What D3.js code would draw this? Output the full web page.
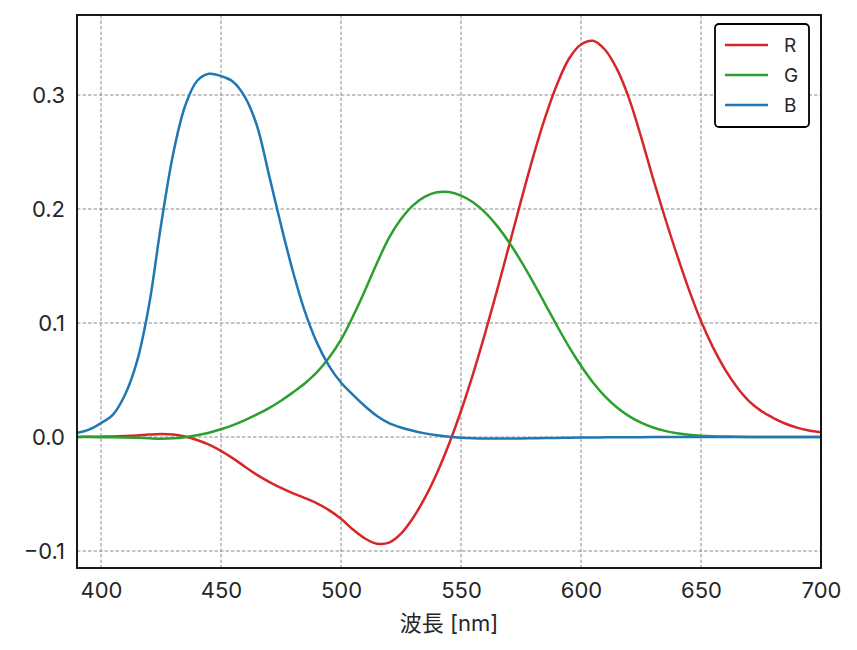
<!DOCTYPE html>
<html>
<head>
<meta charset="utf-8">
<script src="https://cdn.jsdelivr.net/npm/d3@7"></script>
<style>
  html, body { margin: 0; padding: 0; background: #fff; }
  svg { display: block; }
  text { font-family: Inter, "Noto Sans CJK JP", sans-serif; fill: #262626; }
</style>
</head>
<body>
<svg id="chart" width="857" height="650"></svg>
<script>
// Wavelength (nm)
const wavelengths = [390,395,400,405,410,415,420,425,430,435,440,445,450,455,460,465,470,475,480,485,490,495,
  500,505,510,515,520,525,530,535,540,545,550,555,560,565,570,575,580,585,590,595,
  600,605,610,615,620,625,630,635,640,645,650,655,660,665,670,675,680,685,690,695,700];
// Series values
const seriesR = [0.00010,0.00017,0.00030,0.00047,0.00084,0.00139,0.00211,0.00266,0.00218,0.00036,-0.00261,-0.00673,
  -0.01213,-0.01874,-0.02608,-0.03324,-0.03933,-0.04471,-0.04939,-0.05364,-0.05814,-0.06414,
  -0.07173,-0.08120,-0.08901,-0.09356,-0.09264,-0.08473,-0.07101,-0.05316,-0.03152,-0.00613,
  0.02279,0.05514,0.09060,0.12840,0.16768,0.20715,0.24526,0.27989,0.30928,0.33184,
  0.34429,0.34756,0.33971,0.32265,0.29708,0.26348,0.22677,0.19233,0.15968,0.12905,
  0.10167,0.07857,0.05932,0.04366,0.03149,0.02294,0.01687,0.01187,0.00819,0.00572,0.00410];
const seriesG = [-0.00004,-0.00007,-0.00014,-0.00022,-0.00041,-0.00070,-0.00110,-0.00143,-0.00119,-0.00021,0.00149,0.00379,
  0.00678,0.01046,0.01485,0.01977,0.02538,0.03183,0.03914,0.04713,0.05689,0.06948,
  0.08536,0.10593,0.12860,0.15262,0.17468,0.19113,0.20317,0.21083,0.21466,0.21487,
  0.21178,0.20588,0.19702,0.18522,0.17087,0.15429,0.13610,0.11686,0.09754,0.07909,
  0.06246,0.04776,0.03557,0.02583,0.01828,0.01253,0.00833,0.00537,0.00334,0.00199,
  0.00116,0.00066,0.00037,0.00021,0.00011,0.00006,0.00003,0.00001,0.00000,0.00000,0.00000];
const seriesB = [0.00359,0.00647,0.01214,0.01969,0.03707,0.06637,0.11541,0.18575,0.24769,0.29012,0.31228,0.31860,
  0.31670,0.31166,0.29821,0.27295,0.22991,0.18592,0.14494,0.10968,0.08257,0.06246,
  0.04776,0.03688,0.02698,0.01842,0.01221,0.00830,0.00549,0.00320,0.00146,0.00023,
  -0.00058,-0.00105,-0.00130,-0.00138,-0.00135,-0.00123,-0.00108,-0.00093,-0.00079,-0.00063,
  -0.00049,-0.00038,-0.00030,-0.00022,-0.00015,-0.00011,-0.00008,-0.00005,-0.00003,-0.00002,
  -0.00001,-0.00001,0.00000,0.00000,0.00000,0.00000,0.00000,0.00000,0.00000,0.00000,0.00000];
const seriesNames = ["R", "G", "B"];
const seriesColors = ["#d62728", "#2ca02c", "#1f77b4"];
// Tick labels
const xTicks = [400, 450, 500, 550, 600, 650, 700];
const yTicks = [-0.1, 0.0, 0.1, 0.2, 0.3];
const xLabel = "波長 [nm]";

const svg = d3.select("#chart");
const L = 77, R = 821, T = 15, B = 568;
const x = d3.scaleLinear().domain([390, 700]).range([L, R]);
const y = d3.scaleLinear().domain([-0.11491, 0.37018]).range([B, T]);

// grid
const grid = svg.append("g");
grid.selectAll("line.gx").data(xTicks).join("line")
  .attr("x1", d => x(d)).attr("x2", d => x(d)).attr("y1", T).attr("y2", B)
  .attr("stroke", "#808080").attr("stroke-width", 0.9).attr("stroke-dasharray", "3.5,2");
grid.selectAll("line.gy").data(yTicks).join("line")
  .attr("y1", d => y(d)).attr("y2", d => y(d)).attr("x1", L).attr("x2", R)
  .attr("stroke", "#808080").attr("stroke-width", 0.9).attr("stroke-dasharray", "3.5,2");

// clip
svg.append("defs").append("clipPath").attr("id", "clip")
  .append("rect").attr("x", L).attr("y", T).attr("width", R - L).attr("height", B - T);

const allSeries = [seriesR, seriesG, seriesB];
const line = d3.line()
  .x((d, i) => x(wavelengths[i]))
  .y(d => y(d))
  .curve(d3.curveCatmullRom.alpha(0.5));

svg.append("g").attr("clip-path", "url(#clip)")
  .selectAll("path").data(allSeries).join("path")
  .attr("d", d => line(d))
  .attr("fill", "none")
  .attr("stroke", (d, i) => seriesColors[i])
  .attr("stroke-width", 2.5)
  .attr("stroke-linejoin", "round")
  .attr("stroke-linecap", "butt");

// axes
const xAxis = d3.axisBottom(x).tickValues(xTicks).tickSize(0).tickPadding(14).tickFormat(d3.format("d"));
const yAxis = d3.axisLeft(y).tickValues(yTicks).tickSize(0).tickPadding(12).tickFormat(d3.format(".1f"));
const gx = svg.append("g").attr("transform", `translate(0,${B})`).call(xAxis);
const gy = svg.append("g").attr("transform", `translate(${L},0)`).call(yAxis);
[gx, gy].forEach(g => {
  g.select(".domain").remove();
  g.selectAll("text").style("font-family", 'Inter, "Noto Sans CJK JP", sans-serif')
    .style("font-size", "22px").style("font-weight", "400").attr("fill", "#262626");
});
gx.selectAll("text").attr("dy", "0.72em");

// frame
svg.append("rect").attr("x", L).attr("y", T).attr("width", R - L).attr("height", B - T)
  .attr("fill", "none").attr("stroke", "#000").attr("stroke-width", 1.8);

// x label
svg.append("text").attr("x", (L + R) / 2).attr("y", 631)
  .attr("text-anchor", "middle").style("font-size", "22px").text(xLabel);

// legend
const lg = svg.append("g");
lg.append("rect").attr("x", 715).attr("y", 24).attr("width", 94).attr("height", 103)
  .attr("rx", 4).attr("fill", "#fff").attr("stroke", "#000").attr("stroke-width", 1.8);
seriesNames.forEach((n, i) => {
  const yy = 45 + i * 30;
  lg.append("line").attr("x1", 725).attr("x2", 768).attr("y1", yy).attr("y2", yy)
    .attr("stroke", seriesColors[i]).attr("stroke-width", 2.5);
  lg.append("text").attr("x", 784).attr("y", yy).attr("dy", "0.36em")
    .style("font-size", "19px").text(n);
});
</script>
</body>
</html>
